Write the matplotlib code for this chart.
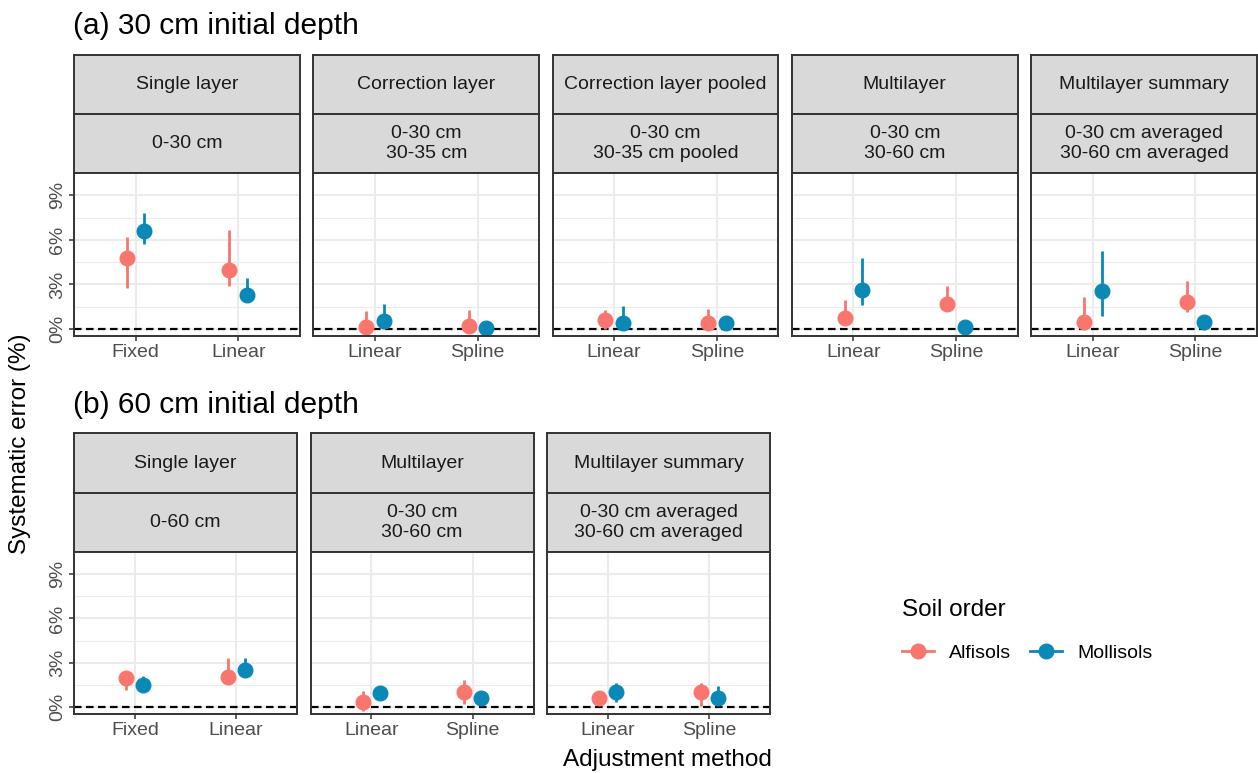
import matplotlib
matplotlib.use("Agg")
import matplotlib.pyplot as plt
from matplotlib.lines import Line2D

plt.rcParams['font.family'] = ['Liberation Sans', 'DejaVu Sans']

W, H = 1258, 773
ALF_COLOR = "#F8766D"
MOL_COLOR = "#0A88B6"
EDGE = "#333333"
GRID = "#EBEBEB"

# ---- (a) 30 cm initial depth ----
a_titles = ["Single layer", "Correction layer", "Correction layer pooled",
            "Multilayer", "Multilayer summary"]
a_layers = ["0-30 cm", "0-30 cm\n30-35 cm", "0-30 cm\n30-35 cm pooled",
            "0-30 cm\n30-60 cm", "0-30 cm averaged\n30-60 cm averaged"]
a_methods = [["Fixed", "Linear"], ["Linear", "Spline"], ["Linear", "Spline"],
             ["Linear", "Spline"], ["Linear", "Spline"]]
a_alf_est = [[4.78, 3.95], [0.13, 0.18], [0.58, 0.43], [0.74, 1.66], [0.45, 1.82]]
a_alf_lo = [[2.76, 2.90], [-0.25, -0.10], [0.00, 0.15], [0.45, 1.35], [0.15, 1.12]]
a_alf_hi = [[6.17, 6.69], [1.21, 1.28], [1.28, 1.37], [1.93, 2.92], [2.15, 3.25]]
a_mol_est = [[6.62, 2.27], [0.52, 0.07], [0.43, 0.43], [2.60, 0.13], [2.54, 0.47]]
a_mol_lo = [[5.70, 1.90], [0.25, -0.15], [0.15, 0.25], [1.59, -0.10], [0.90, 0.30]]
a_mol_hi = [[7.81, 3.46], [1.68, 0.30], [1.53, 0.60], [4.76, 0.35], [5.27, 0.65]]

# ---- (b) 60 cm initial depth ----
b_titles = ["Single layer", "Multilayer", "Multilayer summary"]
b_layers = ["0-60 cm", "0-30 cm\n30-60 cm", "0-30 cm averaged\n30-60 cm averaged"]
b_methods = [["Fixed", "Linear"], ["Linear", "Spline"], ["Linear", "Spline"]]
b_alf_est = [[1.97, 2.01], [0.32, 1.02], [0.59, 1.04]]
b_alf_lo = [[1.18, 1.75], [-0.25, 0.18], [0.40, 0.09]]
b_alf_hi = [[2.20, 3.35], [1.09, 1.86], [0.75, 1.65]]
b_mol_est = [[1.52, 2.53], [0.95, 0.63], [1.00, 0.59]]
b_mol_lo = [[1.30, 2.30], [0.75, 0.45], [0.34, 0.18]]
b_mol_hi = [[2.13, 3.35], [1.15, 0.80], [1.63, 1.40]]

y_ticks = [0, 3, 6, 9]
y_minor = [1.5, 4.5, 7.5]
DODGE = 0.085

SMALL = 14
TITLE = 21.5
AXTITLE = 17.5


def box(x0, y0, x1, y1):
    return [x0 / W, 1 - y1 / H, (x1 - x0) / W, (y1 - y0) / H]


def strip(fig, rect, text):
    s = fig.add_axes(rect)
    s.set_facecolor("#D9D9D9")
    s.set_xticks([])
    s.set_yticks([])
    for sp in s.spines.values():
        sp.set_color(EDGE)
        sp.set_linewidth(1.4)
    s.text(0.5, 0.5, text, ha="center", va="center", fontsize=SMALL,
           color="#1A1A1A", linespacing=1.2, transform=s.transAxes)


def draw_row(fig, left, width, gap, tops, titles, layers, methods,
             alf_est, alf_lo, alf_hi, mol_est, mol_lo, mol_hi):
    s_top, s_mid, p_top, p_bot = tops
    for i in range(len(titles)):
        x0 = left + i * (width + gap)
        x1 = x0 + width
        strip(fig, box(x0, s_top, x1, s_mid), titles[i])
        strip(fig, box(x0, s_mid, x1, p_top), layers[i])

        ax = fig.add_axes(box(x0, p_top, x1, p_bot))
        xs = [1, 2]
        for y in y_minor:
            ax.axhline(y, color=GRID, lw=0.8, zorder=0)
        for y in y_ticks:
            ax.axhline(y, color=GRID, lw=1.5, zorder=0)
        for x in xs:
            ax.axvline(x, color=GRID, lw=1.5, zorder=0)
        ax.axhline(0, color="black", lw=1.6, ls=(0, (3.4, 2.0)), zorder=1)

        xa = [x - DODGE for x in xs]
        xm = [x + DODGE for x in xs]
        ax.vlines(xa, alf_lo[i], alf_hi[i], color=ALF_COLOR, lw=2, zorder=2)
        ax.plot(xa, alf_est[i], "o", color=ALF_COLOR, ms=10.5, zorder=3)
        ax.vlines(xm, mol_lo[i], mol_hi[i], color=MOL_COLOR, lw=2, zorder=2)
        ax.plot(xm, mol_est[i], "o", color=MOL_COLOR, ms=10.5, zorder=3)

        ax.set_xlim(0.4, 2.6)
        ax.set_ylim(-0.47, 10.5)
        ax.set_xticks(xs)
        ax.set_xticklabels(methods[i])
        ax.set_yticks(y_ticks)
        ax.set_yticklabels([f"{t}%" for t in y_ticks], rotation=90, va="center")
        ax.tick_params(length=3.5, width=1.1, color=EDGE, labelsize=SMALL,
                       labelcolor="#4D4D4D", pad=2)
        if i > 0:
            ax.tick_params(left=False, labelleft=False)
        for sp in ax.spines.values():
            sp.set_color(EDGE)
            sp.set_linewidth(1.4)
            sp.set_zorder(4)


fig = plt.figure(figsize=(W / 100, H / 100), dpi=100)

draw_row(fig, 74, 225.8, 13.5, (55, 114, 173, 336), a_titles, a_layers,
         a_methods, a_alf_est, a_alf_lo, a_alf_hi, a_mol_est, a_mol_lo, a_mol_hi)
draw_row(fig, 74, 223, 13.5, (433, 493, 552, 714), b_titles, b_layers,
         b_methods, b_alf_est, b_alf_lo, b_alf_hi, b_mol_est, b_mol_lo, b_mol_hi)

fig.text(73 / W, 1 - 26 / H, "(a) 30 cm initial depth", fontsize=TITLE,
         ha="left", va="center")
fig.text(73 / W, 1 - 405 / H, "(b) 60 cm initial depth", fontsize=TITLE,
         ha="left", va="center")
fig.text(20 / W, 1 - 444 / H, "Systematic error (%)", fontsize=AXTITLE,
         rotation=90, ha="center", va="center")
fig.text(667 / W, 1 - 760 / H, "Adjustment method", fontsize=AXTITLE,
         ha="center", va="center")

handles = [Line2D([0], [0], color=ALF_COLOR, marker="o", ms=10.5, lw=2),
           Line2D([0], [0], color=MOL_COLOR, marker="o", ms=10.5, lw=2)]
leg = fig.legend(handles, ["Alfisols", "Mollisols"], title="Soil order",
                 ncol=2, loc="upper left", bbox_to_anchor=(902 / W, 1 - 599 / H),
                 frameon=False, fontsize=SMALL, title_fontsize=AXTITLE,
                 handlelength=1.65, handletextpad=0.75, columnspacing=1.0,
                 labelspacing=1.2, borderpad=0, borderaxespad=0)
leg._legend_box.align = "left"

fig.savefig("out.png", dpi=100)
